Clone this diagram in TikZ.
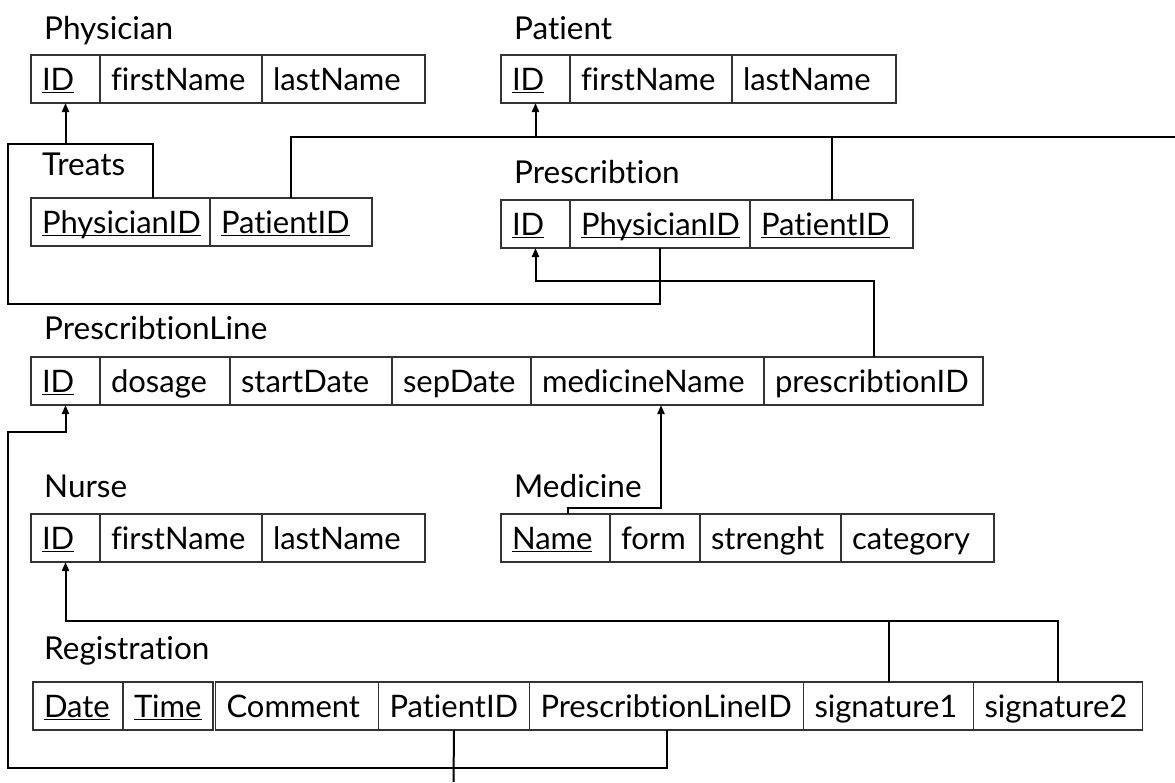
\documentclass[tikz,border=0pt]{standalone}
\usepackage{fontspec}
\setmainfont{Lato}[Ligatures={NoCommon,NoRare,NoContextual}]
\usetikzlibrary{arrows.meta}
% underlined key attribute, rule drawn just under the baseline
\newsavebox{\pkbox}
\newcommand{\pk}[1]{\sbox{\pkbox}{#1}\rlap{\usebox{\pkbox}}\rule[-3.3pt]{\wd\pkbox}{1.3pt}}

\tikzset{
  cell/.style={draw=black!80, line width=1.2pt, outer sep=0pt, anchor=north west,
    minimum height=48pt, inner ysep=0pt, inner xsep=11pt, text height=25pt,
    text depth=3pt, text width=#1, align=left, font=\fontsize{31}{36}\selectfont},
  title/.style={anchor=base west, inner sep=0pt, font=\fontsize{31.5}{36}\selectfont},
  link/.style={line width=2pt, black},
  fk/.style={link, -{Triangle[length=9pt,width=7pt]}},
}

\begin{document}
\begin{tikzpicture}[x=1pt, y=-1pt]
\useasboundingbox (0,0) rectangle (1175,782);
\fill[white] (0,0) rectangle (1175,782);

% ---------- table titles ----------
\node[title] (tPhysician) at (44,39) {Physician};
\node[title] (tPatient) at (514,39) {Patient};
\node[title] (tTreats) at (42,175) {Treats};
\node[title] (tPrescr) at (514,183) {Prescribtion};
\node[title] (tPLine) at (44,339) {PrescribtionLine};
\node[title] (tNurse) at (44,497) {Nurse};
\node[title] (tMedicine) at (514,497) {Medicine};
\node[title] (tRegistration) at (44,659) {Registration};

% ---------- Physician ----------
\node[cell=47pt] (phyId) at (31,55) {\pk{ID}};
\node[cell=140pt] (phyFirst) at (phyId.north east) {firstName};
\node[cell=141pt] (phyLast) at (phyFirst.north east) {lastName};

% ---------- Patient ----------
\node[cell=47pt] (patId) at (501,55) {\pk{ID}};
\node[cell=140pt] (patFirst) at (patId.north east) {firstName};
\node[cell=142pt] (patLast) at (patFirst.north east) {lastName};

% ---------- Treats ----------
\node[cell=157pt] (trPhy) at (31,198) {\pk{PhysicianID}};
\node[cell=140pt] (trPat) at (trPhy.north east) {\pk{PatientID}};

% ---------- Prescribtion ----------
\node[cell=47pt] (prId) at (501,200) {\pk{ID}};
\node[cell=158pt] (prPhy) at (prId.north east) {\pk{PhysicianID}};
\node[cell=141pt] (prPat) at (prPhy.north east) {\pk{PatientID}};

% ---------- PrescribtionLine ----------
\node[cell=47pt] (plId) at (31,357) {\pk{ID}};
\node[cell=108pt] (plDosage) at (plId.north east) {dosage};
\node[cell=140pt] (plStart) at (plDosage.north east) {startDate};
\node[cell=117pt] (plSep) at (plStart.north east) {sepDate};
\node[cell=211pt] (plMed) at (plSep.north east) {medicineName};
\node[cell=197pt] (plPres) at (plMed.north east) {prescribtionID};

% ---------- Nurse ----------
\node[cell=47pt] (nuId) at (31,514) {\pk{ID}};
\node[cell=140pt] (nuFirst) at (nuId.north east) {firstName};
\node[cell=141pt] (nuLast) at (nuFirst.north east) {lastName};

% ---------- Medicine ----------
\node[cell=87pt] (meName) at (501,514) {\pk{Name}};
\node[cell=68pt] (meForm) at (meName.north east) {form};
\node[cell=119pt] (meStr) at (meForm.north east) {strenght};
\node[cell=131pt] (meCat) at (meStr.north east) {category};

% ---------- Registration ----------
\node[cell=68pt] (reDate) at (33,682) {\pk{Date}};
\node[cell=68pt] (reTime) at (reDate.north east) {\pk{Time}};
\node[cell=141pt] (reComment) at ([xshift=2.5pt]reTime.north east) {Comment};
\node[cell=129pt] (rePat) at (reComment.north east) {PatientID};
\node[cell=252pt] (reLine) at (rePat.north east) {PrescribtionLineID};
\node[cell=148pt] (reSig1) at (reLine.north east) {signature1};
\node[cell=147pt] (reSig2) at (reSig1.north east) {signature2};

% ---------- bend points and free ends ----------
\coordinate (phyBus) at (65.5,144);
\coordinate (leftTop) at (8,304);
\coordinate (leftBottom) at (8,768);
\coordinate (patBus) at (535.5,137);
\coordinate (rightEnd) at (1175,137);
\coordinate (bottomEnd) at (453.5,782);
\coordinate (nurseBus) at ([yshift=-59pt]nuId.south);

% ---------- foreign keys ----------
% Prescribtion.PhysicianID and Treats.PhysicianID -> Physician.ID
\draw[fk] (prPhy.south) |- (leftTop) |- (phyBus) -- (phyId.south);
\draw[link] ([xshift=122pt]trPhy.north west) |- (phyBus);

% Treats.PatientID, Prescribtion.PatientID, Registration.PatientID -> Patient.ID
\draw[link] (trPat.north) |- (rightEnd);
\draw[fk] (patBus) -- (patId.south);
\draw[link] (prPat.north) -- (prPat.north |- patBus);
\draw[link] (rePat.south) -- (bottomEnd);

% PrescribtionLine.prescribtionID -> Prescribtion.ID
\draw[fk] (plPres.north) |- ([yshift=-33pt]prId.south) -- (prId.south);

% Registration.PrescribtionLineID -> PrescribtionLine.ID
\draw[fk] (reLine.south) |- (leftBottom) |- ([yshift=-27pt]plId.south) -- (plId.south);

% Registration.signature1/2 -> Nurse.ID
\draw[fk] (reSig2.north) |- (nurseBus) -- (nuId.south);
\draw[link] (reSig1.north) -- (reSig1.north |- nurseBus);

% Medicine.Name -> PrescribtionLine.medicineName
\draw[fk] ([xshift=67pt]meName.north west) |- ([xshift=130pt,yshift=-103pt]plMed.south west) -- ([xshift=130pt]plMed.south west);
\end{tikzpicture}
\end{document}
